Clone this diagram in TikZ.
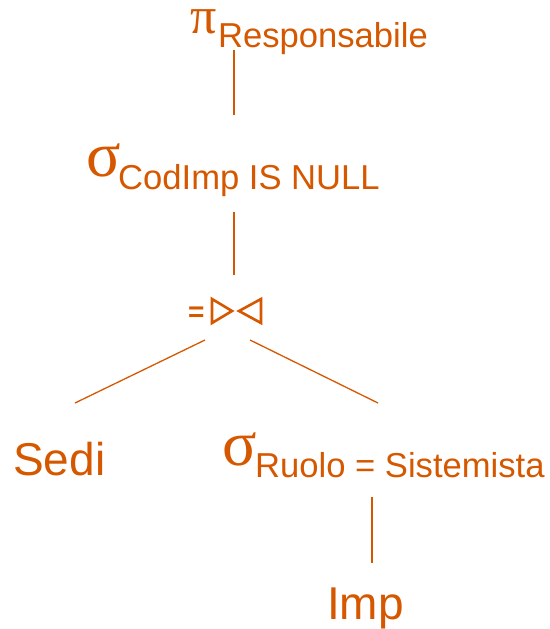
\documentclass[tikz,border=0pt]{standalone}
\usepackage{fontspec}
\setmainfont{Liberation Sans}
\newfontfamily\greekfont{Liberation Serif}
\definecolor{ora}{RGB}{213,88,0}
\begin{document}
\begin{tikzpicture}[x=1pt,y=-1pt,
  lbl/.style={inner sep=0pt,anchor=base west,text=ora},
  sub/.style={lbl,font=\fontsize{34.6}{36}\selectfont},
  big/.style={lbl,font=\fontsize{46}{50}\selectfont},
  grk/.style={lbl,text height=0.45em,text depth=0pt,font=\greekfont\fontsize{64}{66}\selectfont},
  grkp/.style={grk,font=\greekfont\fontsize{52}{54}\selectfont},
  edge/.style={draw=ora,line width=1.3pt},
  tri/.style={draw=ora,line width=2.6pt,line join=miter}]
\useasboundingbox (0,0) rectangle (549,629);
% projection
\node[grkp] (pi) at (190,33) {π};
\node[sub] (proj) at (218,47) {Responsabile};
% selection
\node[grk] (sig1) at (86,176) {σ};
\node[sub] (sel1) at (118,189) {CodImp IS NULL};
% join
\node[lbl,font=\bfseries\fontsize{28}{30}\selectfont] (eq) at (188,321) {=};
\draw[tri] (212,299) -- (212,323) -- (232,311) -- cycle;
\draw[tri] (261,299) -- (261,323) -- (239,311) -- cycle;
% leaves
\node[big] (sedi) at (13,475) {Sedi};
\node[grk] (sig2) at (222,465) {σ};
\node[sub] (sel2) at (255,477) {Ruolo = Sistemista};
\node[big] (imp) at (327,619) {Imp};
% connector endpoints
\coordinate (a1) at (234,50);
\coordinate (a2) at (234,115);
\coordinate (b1) at (234,212);
\coordinate (b2) at (234,275);
\coordinate (c1) at (205,340);
\coordinate (c2) at (75,403);
\coordinate (d1) at (250,340);
\coordinate (d2) at (378,403);
\coordinate (e1) at (372,497);
\coordinate (e2) at (372,563);
\draw[edge] (a1) -- (a2);
\draw[edge] (b1) -- (b2);
\draw[edge] (c1) -- (c2);
\draw[edge] (d1) -- (d2);
\draw[edge] (e1) -- (e2);
\end{tikzpicture}
\end{document}
